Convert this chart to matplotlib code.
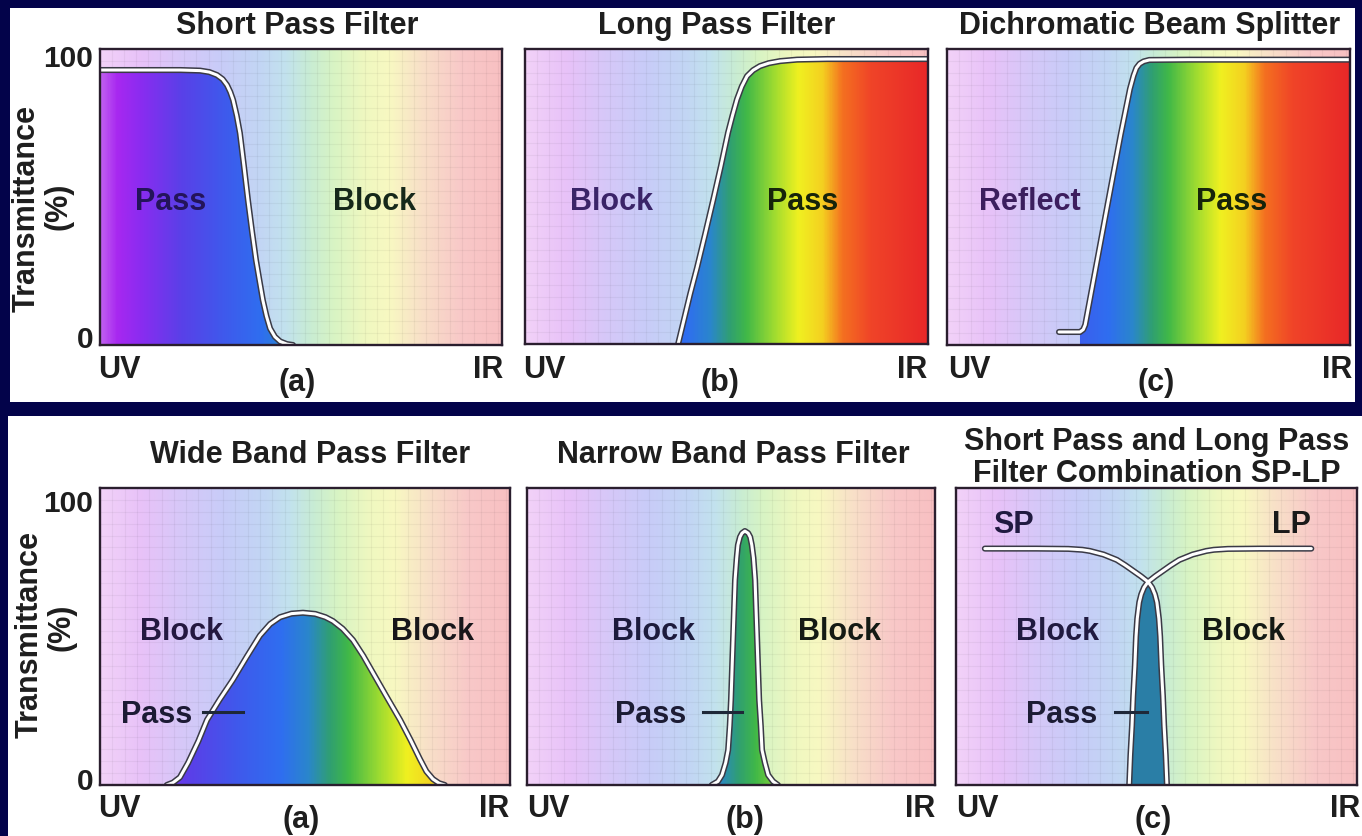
import numpy as np
import matplotlib
matplotlib.use("Agg")
import matplotlib.pyplot as plt
from matplotlib.colors import LinearSegmentedColormap
from matplotlib.patches import Rectangle, Polygon
from matplotlib.lines import Line2D

plt.rcParams['font.family'] = ['Liberation Sans', 'DejaVu Sans']
plt.rcParams['font.weight'] = 'bold'

# ---------------- data: x = relative wavelength (UV=0 .. IR=100), y = transmittance (%) ----------
sp_x = [0, 10, 20, 24.9, 27.2, 29.1, 30.5, 31.6, 32.4, 33.1, 34.0, 34.8, 35.8, 36.8, 37.8,
        38.8, 39.7, 40.5, 41.4, 42.3, 43.5, 44.8, 46.5, 48.0]
sp_y = [92.9, 92.9, 92.9, 92.7, 92.2, 91.2, 89.8, 87.8, 85.5, 82.8, 77.5, 71.6, 60.5, 49.0, 38.5,
        28.7, 21.5, 15.2, 9.8, 5.6, 2.8, 1.2, 0.3, 0.0]

lp_x = [38.0, 39.5, 41.0, 42.7, 44.7, 46.7, 48.6, 50.4, 51.5, 52.6, 53.8, 55.1, 56.6, 58.3,
        60.5, 63.3, 67.5, 75.0, 100.0]
lp_y = [0.0, 8.5, 17.0, 25.9, 37.2, 48.8, 60.2, 71.7, 77.5, 82.9, 87.3, 90.8, 92.8, 94.2,
        95.2, 95.9, 96.4, 96.6, 96.6]

dc_x = [27.8, 33.0, 33.8, 34.3, 37.2, 40.1, 43.1, 45.4, 46.3, 47.0, 47.8, 48.8, 50.2, 60.0, 100.0]
dc_y = [4.4, 4.4, 5.2, 6.8, 28.0, 49.2, 71.0, 86.5, 91.0, 93.6, 95.0, 95.8, 96.3, 96.4, 96.4]
dc_fill_start = 33.0

wb_x = [16.3, 17.8, 19.5, 21.5, 24.0, 26.1, 29.2, 32.4, 35.8, 39.0, 41.5, 43.9, 46.7, 49.5,
        52.5, 55.0, 56.8, 59.2, 61.7, 64.2, 66.6, 70.0, 73.2, 75.8, 78.0, 79.6, 81.2, 82.7, 84.1]
wb_y = [0.0, 0.8, 2.6, 7.5, 14.8, 21.9, 28.8, 35.4, 43.2, 50.3, 54.2, 56.5, 57.7, 58.0,
        57.6, 56.5, 55.2, 52.6, 48.8, 43.5, 37.7, 29.5, 21.9, 15.0, 8.8, 4.6, 2.0, 0.6, 0.0]

nb_x = [45.3, 46.8, 47.8, 48.7, 49.3, 49.7, 50.0, 50.5, 51.0, 51.4, 51.7, 52.2, 52.7, 53.4,
        54.2, 54.7, 55.1, 55.5, 55.9, 56.4, 56.9, 57.3, 57.6, 58.3, 59.1, 60.3, 61.5]
nb_y = [0.0, 1.2, 3.4, 7.5, 11.8, 20.0, 28.6, 48.8, 69.0, 76.5, 80.8, 83.5, 84.8, 85.5,
        84.8, 83.5, 80.8, 76.5, 69.0, 48.8, 28.6, 20.0, 11.8, 7.5, 3.4, 1.2, 0.0]

splp_sp_x = [7.2, 20.0, 28.0, 31.5, 33.4, 36.8, 40.1, 42.2, 44.1, 46.1, 47.9, 48.9, 49.6, 50.1,
             50.6, 50.9, 51.2, 51.6, 51.9, 52.3, 52.6]
splp_sp_y = [79.6, 79.6, 79.5, 79.2, 78.8, 77.6, 75.8, 74.0, 72.2, 70.3, 68.4, 66.5, 64.2, 61.5,
             56.0, 50.0, 40.0, 30.0, 20.0, 10.0, 0.0]
splp_lp_x = [88.6, 75.8, 67.8, 64.3, 62.4, 59.0, 55.7, 53.6, 51.7, 49.7, 47.9, 46.9, 46.2, 45.7,
             45.2, 44.9, 44.6, 44.2, 43.9, 43.5, 43.2]
splp_lp_y = [79.6, 79.6, 79.5, 79.2, 78.8, 77.6, 75.8, 74.0, 72.2, 70.3, 68.4, 66.5, 64.2, 61.5,
             56.0, 50.0, 40.0, 30.0, 20.0, 10.0, 0.0]
splp_cross = 47.9

top_titles = ["Short Pass Filter", "Long Pass Filter", "Dichromatic Beam Splitter"]
bottom_titles = ["Wide Band Pass Filter", "Narrow Band Pass Filter"]
splp_title = ["Short Pass and Long Pass", "Filter Combination SP-LP"]
panel_tags = ["(a)", "(b)", "(c)"]
y_ticks = ["100", "0"]

# ---------------- styling ----------------
W, H = 1362, 836
NAVY = '#03034a'
pastel = LinearSegmentedColormap.from_list('pastel', [
    (0.00, '#f2d2f8'), (0.10, '#e8c2f8'), (0.20, '#d6c8f8'), (0.30, '#c8ccf8'),
    (0.40, '#c2d6f4'), (0.46, '#c2e2ee'), (0.52, '#c8ecd4'), (0.58, '#d8f4c4'),
    (0.66, '#f0f8c0'), (0.72, '#f8f8c2'), (0.80, '#f8e0c8'), (0.90, '#f8c8c8'),
    (1.00, '#f8c0c2')])
vivid = LinearSegmentedColormap.from_list('vivid', [
    (0.00, '#c060f0'), (0.04, '#a828f0'), (0.10, '#8a2cf0'), (0.20, '#5a40e8'),
    (0.30, '#4058ec'), (0.40, '#2f6ef0'), (0.46, '#2a86cc'), (0.51, '#30a070'),
    (0.55, '#40b848'), (0.62, '#a0dc30'), (0.68, '#f0f020'), (0.74, '#f4d020'),
    (0.79, '#f47020'), (0.86, '#f04428'), (1.00, '#e82828')])
grad = np.linspace(0, 1, 600)[None, :]

fig = plt.figure(figsize=(W / 100, H / 100), dpi=100, facecolor=NAVY)

def fx(px):
    return px / W

def fy(py):
    return 1 - py / H

fig.add_artist(Rectangle((fx(10), fy(402)), (1355 - 10) / W, (402 - 8) / H,
                         transform=fig.transFigure, facecolor='white', edgecolor='none', zorder=-5))
fig.add_artist(Rectangle((fx(8), fy(836)), (1362 - 8) / W, (836 - 416) / H,
                         transform=fig.transFigure, facecolor='white', edgecolor='none', zorder=-5))


def panel(l, t, r, b):
    ax = fig.add_axes([fx(l), fy(b), (r - l) / W, (b - t) / H])
    ax.imshow(grad, extent=[0, 100, 0, 100], aspect='auto', cmap=pastel, zorder=0)
    ax.set_xlim(0, 100)
    ax.set_ylim(0, 100)
    ax.set_xticks(np.arange(3, 100, 3))
    ax.set_yticks(np.arange(4, 100, 4))
    ax.grid(True, color='#000000', alpha=0.045, lw=0.9)
    ax.tick_params(length=0, labelbottom=False, labelleft=False)
    for s in ax.spines.values():
        s.set_color('#2a1e2e')
        s.set_linewidth(1.7)
        s.set_zorder(10)
    return ax


def vivid_fill(ax, verts, span=(0, 100)):
    poly = Polygon(verts, closed=True, facecolor='none', edgecolor='none', transform=ax.transData)
    ax.add_patch(poly)
    im = ax.imshow(grad, extent=[span[0], span[1], 0, 100], aspect='auto', cmap=vivid, zorder=2)
    im.set_clip_path(poly)


def curve(ax, x, y):
    ax.plot(x, y, color='#3a3a46', lw=4.4, solid_joinstyle='round', solid_capstyle='round', zorder=4)
    ax.plot(x, y, color='white', lw=2.2, solid_joinstyle='round', solid_capstyle='round', zorder=5)


def area_under(x, y):
    return list(zip(x, y)) + [(x[-1], 0), (x[0], 0)]


def txt(px, py, s, ha='center', size=22, color='#1e1e1e', **kw):
    fig.text(fx(px), fy(py), s, ha=ha, va='baseline', fontsize=size, color=color,
             fontweight='bold', **kw)


def leader(x0, x1, py):
    fig.add_artist(Line2D([fx(x0), fx(x1)], [fy(py), fy(py)], transform=fig.transFigure,
                          color='#1e2838', lw=2.2, zorder=20))


# ---------------- top row ----------------
a1 = panel(100, 49, 502, 345)
vivid_fill(a1, area_under(sp_x, sp_y))
curve(a1, sp_x, sp_y)

a2 = panel(525, 49, 928, 344)
vivid_fill(a2, area_under(lp_x, lp_y))
curve(a2, lp_x, lp_y)

a3 = panel(947, 49, 1350, 345)
dcx = np.array(dc_x)
dcy = np.array(dc_y)
m = dcx >= dc_fill_start
vivid_fill(a3, area_under(list(dcx[m]), list(dcy[m])))
curve(a3, dc_x, dc_y)

# ---------------- bottom row ----------------
b1 = panel(100, 488, 510, 785)
vivid_fill(b1, area_under(wb_x, wb_y), span=(0, 110))
curve(b1, wb_x, wb_y)

b2 = panel(527, 488, 935, 785)
vivid_fill(b2, area_under(nb_x, nb_y), span=(0, 102))
curve(b2, nb_x, nb_y)

b3 = panel(956, 488, 1357, 785)
spx = np.array(splp_sp_x); spy = np.array(splp_sp_y)
lpx = np.array(splp_lp_x); lpy = np.array(splp_lp_y)
ms = spx >= splp_cross
ml = lpx <= splp_cross
band = list(zip(spx[ms], spy[ms])) + list(zip(lpx[ml][::-1], lpy[ml][::-1]))
b3.add_patch(Polygon(band, closed=True, facecolor='#2a7ea6', edgecolor='none', zorder=2))
curve(b3, splp_sp_x, splp_sp_y)
curve(b3, splp_lp_x, splp_lp_y)

# ---------------- texts ----------------
for s, cx in zip(top_titles, [297, 717, 1150]):
    txt(cx, 34, s)
for s, cx in zip(bottom_titles, [310, 733]):
    txt(cx, 463, s)
txt(1157, 450, splp_title[0])
txt(1157, 482, splp_title[1])

# y axis labels
for yb100, yb0, ylab, xlab, xpct, ypct in [(67, 348, 209, 27, 59, 206), (512, 790, 635, 30, 62, 627)]:
    txt(93, yb100, y_ticks[0], ha='right', size=21.5)
    txt(93, yb0, y_ticks[1], ha='right', size=21.5)
    fig.text(fx(xlab), fy(ylab), "Transmittance", rotation=90, ha='center', va='center',
             fontsize=22, fontweight='bold', color='#1e1e1e')
    fig.text(fx(xpct), fy(ypct), "(%)", rotation=90, ha='center', va='center',
             fontsize=22, fontweight='bold', color='#1e1e1e')

# UV / IR / tags
for lx, rx, cx, tag in zip([98, 523, 948], [503, 927, 1352], [297, 720, 1156], panel_tags):
    txt(lx, 378, "UV", ha='left')
    txt(rx, 378, "IR", ha='right')
    txt(cx, 391, tag)
for lx, rx, cx, tag in zip([98, 527, 956], [509, 935, 1360], [301, 745, 1153], panel_tags):
    txt(lx, 817, "UV", ha='left')
    txt(rx, 817, "IR", ha='right')
    txt(cx, 828, tag)

# inner labels
txt(171, 210, "Pass", color='#24145a')
txt(374, 210, "Block", color='#16281a')
txt(612, 210, "Block", color='#3a2468')
txt(803, 210, "Pass", color='#16240a')
txt(1030, 210, "Reflect", color='#3c1e5e')
txt(1232, 210, "Pass", color='#16240a')

txt(181, 640, "Block", color='#241840')
txt(433, 640, "Block", color='#18161a')
txt(157, 723, "Pass", color='#1c1a34')
leader(203, 243, 712)

txt(653, 640, "Block", color='#1c1a3c')
txt(840, 640, "Block", color='#141a14')
txt(651, 723, "Pass", color='#1c1c34')
leader(703, 742, 712)

txt(1013, 533, "SP", color='#201a40')
txt(1291, 533, "LP", color='#1a1a1a')
txt(1057, 640, "Block", color='#201a40')
txt(1243, 640, "Block", color='#141a14')
txt(1062, 723, "Pass", color='#1c1c34')
leader(1115, 1147, 712)

fig.savefig('out.png', dpi=100, facecolor=fig.get_facecolor())
